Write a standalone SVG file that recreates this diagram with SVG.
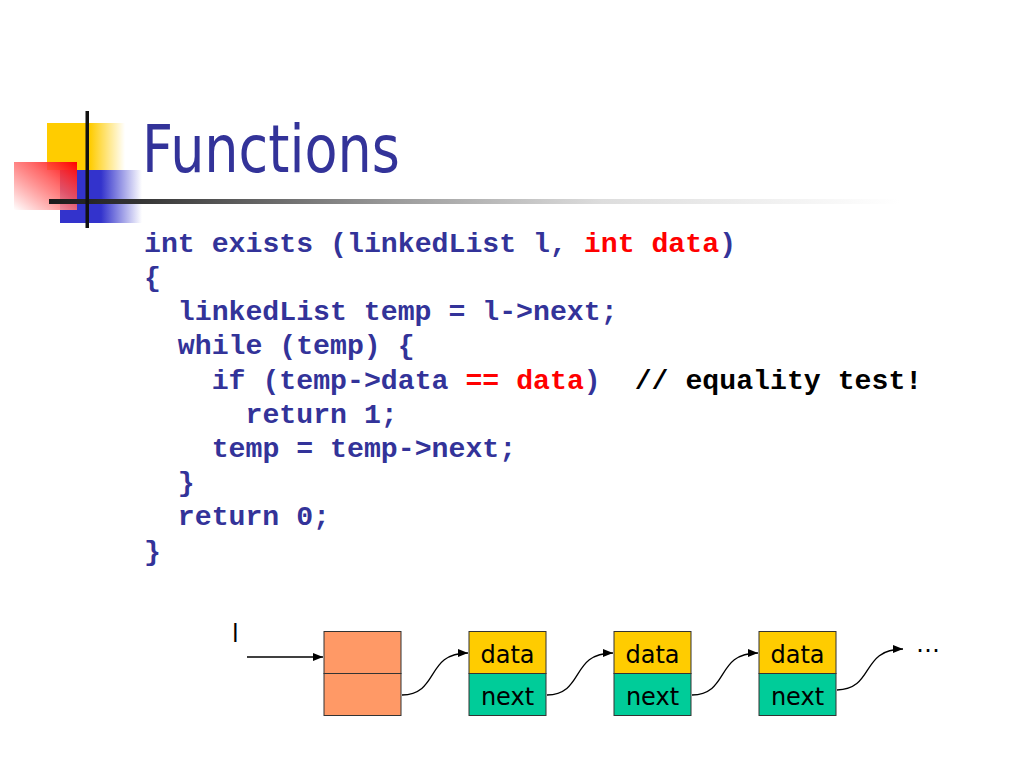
<svg xmlns="http://www.w3.org/2000/svg" width="1024" height="768" viewBox="0 0 1024 768">
<defs>
<linearGradient id="gY" x1="0" y1="0" x2="1" y2="0"><stop offset="0" stop-color="#FFCC00"/><stop offset="0.55" stop-color="#FFCC00"/><stop offset="1" stop-color="#FFCC00" stop-opacity="0"/></linearGradient>
<linearGradient id="gB" x1="0" y1="0" x2="1" y2="0"><stop offset="0" stop-color="#3333CC"/><stop offset="0.5" stop-color="#3333CC"/><stop offset="1" stop-color="#3333CC" stop-opacity="0"/></linearGradient>
<linearGradient id="gR" x1="1" y1="0" x2="0" y2="1"><stop offset="0" stop-color="#FF0000"/><stop offset="0.4" stop-color="#FF5555" stop-opacity="0.85"/><stop offset="1" stop-color="#FFFFFF" stop-opacity="0.95"/></linearGradient>
<linearGradient id="gL" x1="49" y1="0" x2="900" y2="0" gradientUnits="userSpaceOnUse"><stop offset="0" stop-color="#1a1a1a"/><stop offset="0.1" stop-color="#333333"/><stop offset="0.4" stop-color="#999999"/><stop offset="0.65" stop-color="#dddddd"/><stop offset="1" stop-color="#ffffff"/></linearGradient>
<marker id="ah" viewBox="0 0 10 8" refX="10" refY="4" markerWidth="10" markerHeight="8" markerUnits="userSpaceOnUse" orient="auto"><path d="M0,0 L10,4 L0,8 z" fill="#000"/></marker>
<style>
.code{font-family:"Liberation Mono","Courier New",monospace;font-weight:bold;font-size:28.2px;fill:#333399}
.r{fill:#FF0000}.k{fill:#000}
.lbl{font-family:"DejaVu Sans",Tahoma,sans-serif;font-size:24px;fill:#000}
.cell{stroke:#333;stroke-width:1}
.conn{fill:none;stroke:#000;stroke-width:1.3}
</style>
</defs>
<rect width="1024" height="768" fill="#fff"/>
<g id="logo">
<rect x="47" y="123" width="78" height="47" fill="url(#gY)"/>
<rect x="60" y="170" width="82" height="53" fill="url(#gB)"/>
<rect x="14" y="162" width="63" height="48" fill="url(#gR)"/>
<rect x="49" y="199" width="851" height="5" fill="url(#gL)"/>
<rect x="85.5" y="111" width="3.5" height="117" fill="#111"/>
</g>
<text id="title" x="142" y="172" font-family="DejaVu Sans, Tahoma, sans-serif" font-size="66" fill="#333399" textLength="258" lengthAdjust="spacingAndGlyphs">Functions</text>
<g id="code" class="code">
<text x="144" y="252">int exists (linkedList l, <tspan class="r">int data</tspan>)</text>
<text x="144" y="286">{</text>
<text x="177.8" y="320">linkedList temp = l-&gt;next;</text>
<text x="177.8" y="354">while (temp) {</text>
<text x="211.7" y="389">if (temp-&gt;data <tspan class="r">== data</tspan>)<tspan class="k" x="634.7">// equality test!</tspan></text>
<text x="245.5" y="423">return 1;</text>
<text x="211.7" y="457">temp = temp-&gt;next;</text>
<text x="177.8" y="491">}</text>
<text x="177.8" y="525">return 0;</text>
<text x="144" y="560">}</text>
</g>
<g id="head">
<text class="lbl" x="232" y="642">l</text>
<rect class="cell" x="324" y="631.5" width="77" height="42" fill="#FF9966"/>
<rect class="cell" x="324" y="673.5" width="77" height="42" fill="#FF9966"/>
</g>
<g id="node1">
<rect class="cell" x="469" y="631.5" width="77" height="42" fill="#FFCC00"/>
<rect class="cell" x="469" y="673.5" width="77" height="42" fill="#00CC99"/>
<text class="lbl" x="507.5" y="663" text-anchor="middle">data</text>
<text class="lbl" x="507.5" y="705" text-anchor="middle">next</text>
</g>
<g id="node2">
<rect class="cell" x="614" y="631.5" width="77" height="42" fill="#FFCC00"/>
<rect class="cell" x="614" y="673.5" width="77" height="42" fill="#00CC99"/>
<text class="lbl" x="652.5" y="663" text-anchor="middle">data</text>
<text class="lbl" x="652.5" y="705" text-anchor="middle">next</text>
</g>
<g id="node3">
<rect class="cell" x="759" y="631.5" width="77" height="42" fill="#FFCC00"/>
<rect class="cell" x="759" y="673.5" width="77" height="42" fill="#00CC99"/>
<text class="lbl" x="797.5" y="663" text-anchor="middle">data</text>
<text class="lbl" x="797.5" y="705" text-anchor="middle">next</text>
</g>
<g id="ellipsis"><text class="lbl" x="916" y="652">…</text></g>
<g id="connectors">
<path class="conn" d="M247,657 L323,657" marker-end="url(#ah)"/>
<path class="conn" d="M402,695 C440,694 425,653 468,653" marker-end="url(#ah)"/>
<path class="conn" d="M547,695 C585,694 570,653 613,653" marker-end="url(#ah)"/>
<path class="conn" d="M692,695 C730,694 715,653 758,653" marker-end="url(#ah)"/>
<path class="conn" d="M837,690 C875,689 860,649 903,649" marker-end="url(#ah)"/>
</g>
</svg>
